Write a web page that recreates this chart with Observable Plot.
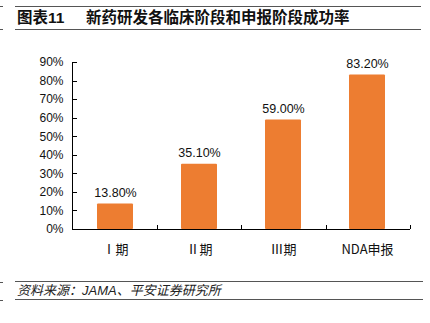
<!DOCTYPE html>
<html>
<head>
<meta charset="utf-8">
<script src="https://cdn.jsdelivr.net/npm/d3@7"></script>
<script src="https://cdn.jsdelivr.net/npm/@observablehq/plot@0.6"></script>
<style>
  body { margin: 0; background: #fff; width: 430px; height: 323px; position: relative; overflow: hidden;
         font-family: "Liberation Sans", Arial, "Noto Sans CJK SC", sans-serif; }
  .title { position: absolute; left: 15px; top: 6px; width: 406px; height: 22px;
           border-top: 1.5px solid #555; border-bottom: 1.5px solid #555;
           font-weight: bold; font-size: 15.5px; line-height: 22px; color: #111;
           font-family: "Liberation Sans", Arial, "Noto Sans CJK SC", sans-serif; }
  .title span.num { display: inline-block; width: 69px; padding-left: 2px; }
  .caption { position: absolute; left: 15px; top: 281px; width: 406px; height: 17px;
             border-top: 1.5px solid #555; border-bottom: 1.5px solid #555;
             font-style: italic; font-size: 13px; line-height: 17px; color: #222; padding-left: 2px; box-sizing: content-box; }
  .mark { position: absolute; left: 0; width: 3px; height: 1px; background: #555; }
  #chart { position: absolute; left: 0; top: 35px; }
</style>
</head>
<body>
<div class="mark" style="top:6px"></div>
<div class="mark" style="top:29px"></div>
<div class="title"><span class="num">图表11</span>新药研发各临床阶段和申报阶段成功率</div>
<div id="chart"></div>
<div class="caption">资料来源：JAMA、平安证券研究所</div>
<div class="mark" style="top:282px"></div>
<div class="mark" style="top:300px"></div>
<script>
const categories = ["Ⅰ期", "Ⅱ期", "Ⅲ期", "NDA申报"];
const rates = [13.8, 35.1, 59.0, 83.2];
const yTicks = [0, 10, 20, 30, 40, 50, 60, 70, 80, 90];

const data = categories.map((c, i) => ({cat: c, rate: rates[i]}));

function axisLines(index, scales, values, dims) {
  const g = d3.create("svg:g").attr("stroke", "#000").attr("fill", "none");
  const x0 = dims.marginLeft, x1 = dims.width - dims.marginRight;
  const yb = dims.height - dims.marginBottom;
  const y = scales.y;
  const ytop = y(d3.max(yTicks));
  g.append("line").attr("x1", x0 + 0.5).attr("x2", x0 + 0.5).attr("y1", ytop).attr("y2", yb).attr("stroke-width", 1);
  g.append("line").attr("x1", x0).attr("x2", x1).attr("y1", yb + 0.5).attr("y2", yb + 0.5).attr("stroke-width", 1);
  for (const t of yTicks) {
    const yy = Math.round(y(t)) + 0.5;
    g.append("line").attr("x1", x0).attr("x2", x0 + 5).attr("y1", yy).attr("y2", yy);
  }
  const step = (x1 - x0) / categories.length;
  for (let i = 1; i <= categories.length; i++) {
    const xx = Math.round(x0 + step * i) + 0.5;
    g.append("line").attr("x1", xx).attr("x2", xx).attr("y1", yb).attr("y2", yb - 4);
  }
  return g.node();
}

const chart = Plot.plot({
  width: 430,
  height: 240,
  marginLeft: 72,
  marginRight: 20,
  marginTop: 27,
  marginBottom: 46,
  style: {fontFamily: "'Liberation Sans', Arial, 'Noto Sans CJK SC', sans-serif", fontSize: "12px", color: "#111", background: "transparent"},
  x: {domain: categories, paddingInner: 0.57, paddingOuter: 0.285, label: null},
  y: {domain: [0, 90], label: null},
  marks: [
    Plot.axisY(yTicks, {tickSize: 0, tickPadding: 9, tickFormat: d => d + "%", fontSize: 12, label: null}),
    Plot.axisX({tickSize: 0, tickPadding: 15, fontSize: 13, label: null, fontFamily: "'Noto Sans CJK SC', sans-serif"}),
    Plot.barY(data, {x: "cat", y: "rate", fill: "#ED7D31", rx: 1}),
    Plot.text(data, {x: "cat", y: "rate", text: d => d.rate.toFixed(2) + "%", dy: -11, fontSize: 12.5, fill: "#111"}),
    axisLines
  ]
});
document.getElementById("chart").appendChild(chart);
</script>
</body>
</html>
